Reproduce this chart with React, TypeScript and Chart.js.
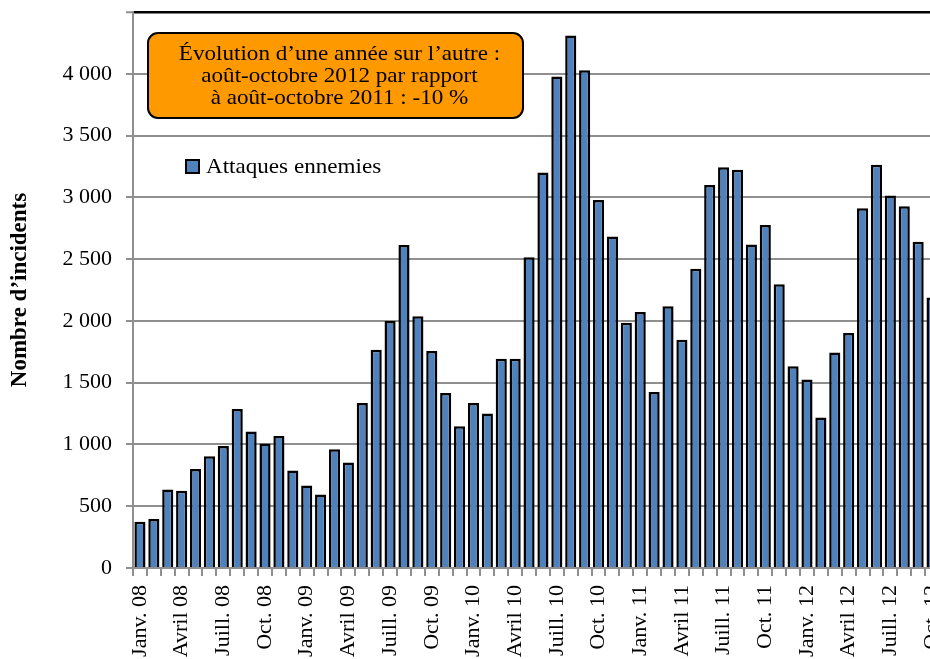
import { useEffect, useRef } from 'react';
import { Chart, registerables } from 'chart.js';

Chart.register(...registerables);

const monthNames = ['Janv.', 'Févr.', 'Mars', 'Avril', 'Mai', 'Juin', 'Juill.', 'Août', 'Sept.', 'Oct.', 'Nov.', 'Déc.'];
const years = ['08', '09', '10', '11', '12'];

const attaques2008 = [374, 396, 636, 625, 802, 905, 988, 1287, 1104, 1007, 1069, 789];
const attaques2009 = [668, 595, 961, 854, 1336, 1767, 2000, 2615, 2038, 1756, 1417, 1147];
const attaques2010 = [1336, 1250, 1694, 1694, 2515, 3202, 3978, 4309, 4029, 2979, 2683, 1985];
const attaques2011 = [2071, 1425, 2119, 1848, 2421, 3100, 3243, 3224, 2618, 2777, 2297, 1632];
const attaques2012 = [1525, 1218, 1745, 1901, 2911, 3264, 3014, 2927, 2640, 2190];

const attaquesEnnemies = [...attaques2008, ...attaques2009, ...attaques2010, ...attaques2011, ...attaques2012];
const categories = attaquesEnnemies.map((_, i) => `${monthNames[i % 12]} ${years[Math.floor(i / 12)]}`);

const yMin = 0;
const yMax = 4500;
const yStep = 500;

const seriesLabel = 'Attaques ennemies';
const yAxisTitle = 'Nombre d’incidents';
const annotationLines = [
  'Évolution d’une année sur l’autre :',
  'août-octobre 2012 par rapport',
  'à août-octobre 2011 : -10 %',
];

const FONT = '"Liberation Serif", "Times New Roman", serif';
const BAR_COLOR = '#4F81BD';
const GRID_COLOR = '#8f8f8f';

const fmt = (v: number) => String(v).replace(/\B(?=(\d{3})+(?!\d))/g, ' ');

const overlayPlugin = {
  id: 'overlay',
  afterDraw(chart: any) {
    const ctx = chart.ctx as CanvasRenderingContext2D;
    const area = chart.chartArea;
    ctx.save();
    // annotation box
    const bx = area.left + 15;
    const by = area.top + 21;
    const bw = 375;
    const bh = 85;
    ctx.beginPath();
    (ctx as any).roundRect(bx, by, bw, bh, 10);
    ctx.fillStyle = '#FF9900';
    ctx.fill();
    ctx.lineWidth = 2;
    ctx.strokeStyle = '#000';
    ctx.stroke();
    ctx.fillStyle = '#000';
    ctx.font = `21px ${FONT}`;
    ctx.textAlign = 'center';
    ctx.textBaseline = 'middle';
    const cx = bx + bw / 2 + 4;
    annotationLines.forEach((line, i) => {
      ctx.save();
      ctx.translate(cx, by + 21 + i * 22);
      ctx.scale(1.1, 1);
      ctx.fillText(line, 0, 0);
      ctx.restore();
    });
    // legend
    const lx = area.left + 53;
    const ly = area.top + 148;
    ctx.fillStyle = BAR_COLOR;
    ctx.fillRect(lx, ly, 13, 13);
    ctx.lineWidth = 2;
    ctx.strokeStyle = '#000';
    ctx.strokeRect(lx, ly, 13, 13);
    ctx.fillStyle = '#000';
    ctx.textAlign = 'left';
    ctx.save();
    ctx.translate(lx + 20, ly + 7);
    ctx.scale(1.1, 1);
    ctx.fillText(seriesLabel, 0, 0);
    ctx.restore();
    ctx.restore();
  },
};

export default function App() {
  const canvasRef = useRef<HTMLCanvasElement | null>(null);

  useEffect(() => {
    const canvas = canvasRef.current;
    if (!canvas) return;
    Chart.defaults.font.family = FONT;
    Chart.defaults.color = '#000';
    const chart = new Chart(canvas, {
      type: 'bar',
      data: {
        labels: categories,
        datasets: [
          {
            label: seriesLabel,
            data: attaquesEnnemies,
            backgroundColor: BAR_COLOR,
            borderColor: '#000',
            borderWidth: 2.5,
            categoryPercentage: 1,
            barPercentage: 0.8,
          },
        ],
      },
      options: {
        responsive: false,
        animation: false,
        devicePixelRatio: 1,
        layout: { padding: { left: 0, top: 12, right: 21, bottom: 0 } },
        plugins: {
          legend: { display: false },
          tooltip: { enabled: false },
        },
        scales: {
          x: {
            offset: true,
            afterFit: (scale: any) => {
              scale.height = 91;
              scale.paddingLeft = 0;
              scale.paddingRight = 0;
            },
            grid: {
              offset: true,
              drawOnChartArea: false,
              drawTicks: true,
              tickLength: 8,
              tickColor: GRID_COLOR,
              tickWidth: 2,
              color: GRID_COLOR,
              lineWidth: 2,
            },
            border: { display: true, color: GRID_COLOR, width: 2 },
            ticks: {
              autoSkip: false,
              minRotation: 90,
              maxRotation: 90,
              padding: 9,
              color: '#000',
              font: { size: 22, family: FONT, lineHeight: 1 },
              callback: (_v: any, i: number) => (i % 3 === 0 ? categories[i] : ''),
            },
          },
          y: {
            min: yMin,
            max: yMax,
            afterFit: (scale: any) => {
              scale.width = 133;
              scale.paddingTop = 0;
              scale.paddingBottom = 0;
            },
            grid: {
              color: (c: any) => (c.tick && c.tick.value === yMax ? '#000' : GRID_COLOR),
              lineWidth: (c: any) => (c.tick && c.tick.value === yMax ? 2.5 : 2),
              tickColor: GRID_COLOR,
              tickLength: 7,
              tickWidth: 2,
            },
            border: { display: true, color: GRID_COLOR, width: 2 },
            ticks: {
              stepSize: yStep,
              padding: 14,
              color: '#000',
              font: { size: 22, family: FONT, lineHeight: 1 },
              callback: (v: any) => (Number(v) === yMax ? '' : fmt(Number(v))),
            },
            title: {
              display: true,
              text: yAxisTitle,
              color: '#000',
              font: { size: 23, weight: 'bold', family: FONT },
              padding: { top: 6, bottom: 0 },
            },
          },
        },
      },
      plugins: [overlayPlugin],
    });
    return () => chart.destroy();
  }, []);

  return (
    <div
      style={{
        position: 'fixed',
        left: 0,
        top: 0,
        width: 930,
        height: 659,
        overflow: 'hidden',
        background: '#fff',
      }}
    >
      <canvas ref={canvasRef} width={960} height={659} style={{ display: 'block' }} />
    </div>
  );
}
